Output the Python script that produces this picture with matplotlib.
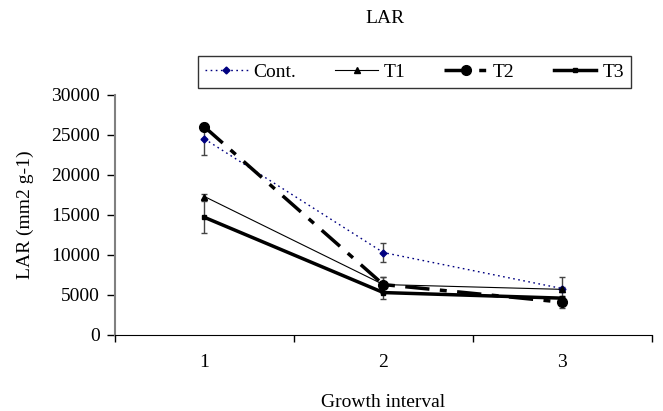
import matplotlib.pyplot as plt
import numpy as np

plt.rcParams['font.family'] = ['Liberation Serif', 'DejaVu Serif']

# data
intervals = ['1', '2', '3']
cont = [24500, 10300, 5800]
cont_err = [2000, 1200, 1500]
t1 = [17300, 6300, 5700]
t1_err = [300, 900, 300]
t2 = [26000, 6300, 4100]
t2_err = [300, 1000, 700]
t3 = [14700, 5300, 4600]
t3_err = [2000, 800, 300]

x = np.arange(1, len(intervals) + 1)

fig = plt.figure(figsize=(6.63, 4.11), dpi=100)
ax = fig.add_axes([0.1735, 0.185, 0.8095, 0.584])

styles = [
    ('Cont.', cont, cont_err, dict(color='#000080', ls=(0, (1.2, 2.5)), lw=1, marker='D', ms=3.5, zorder=3)),
    ('T1', t1, t1_err, dict(color='black', ls='-', lw=0.8, marker='^', ms=5, zorder=3)),
    ('T2', t2, t2_err, dict(color='black', ls=(0, (7, 3, 2, 3)), lw=2.5, marker='o', ms=7, zorder=4)),
    ('T3', t3, t3_err, dict(color='black', ls='-', lw=2.5, marker='s', ms=3, zorder=3)),
]
handles = []
for name, vals, err, kw in styles:
    ax.errorbar(x, vals, yerr=err, fmt='none', ecolor='#444444', elinewidth=1,
                capsize=2, capthick=1, zorder=2)
    h, = ax.plot(x, vals, label=name, **kw)
    handles.append(h)

ax.set_xlim(0.5, 3.5)
ax.set_ylim(0, 30000)
ax.set_yticks(range(0, 30001, 5000))
ax.set_xticks(x)
ax.set_xticklabels(intervals)
ax.set_xticks([0.5, 1.5, 2.5, 3.5], minor=True)
ax.tick_params(axis='x', which='major', length=0, pad=14, labelsize=14)
ax.tick_params(axis='x', which='minor', length=5, direction='out', width=1)
ax.tick_params(axis='y', length=6, direction='out', width=1, labelsize=14, pad=5)

for s in ['top', 'right']:
    ax.spines[s].set_visible(False)
ax.spines['left'].set_color('#808080')
ax.spines['left'].set_linewidth(1.5)
ax.spines['bottom'].set_color('black')

ax.set_xlabel('Growth interval', fontsize=14, labelpad=16)
ax.set_ylabel('LAR (mm2 g-1)', fontsize=14, labelpad=12)
fig.text(0.58, 0.955, 'LAR', ha='center', va='center', fontsize=14)

leg = fig.legend(handles=handles, loc='center', bbox_to_anchor=(0.625, 0.825), ncol=4,
                 fontsize=14, frameon=True, fancybox=False, edgecolor='black',
                 handlelength=2.2, columnspacing=2.0, handletextpad=0.3,
                 borderpad=0.35)
leg.get_frame().set_linewidth(1)

fig.savefig('out.png', dpi=100)
